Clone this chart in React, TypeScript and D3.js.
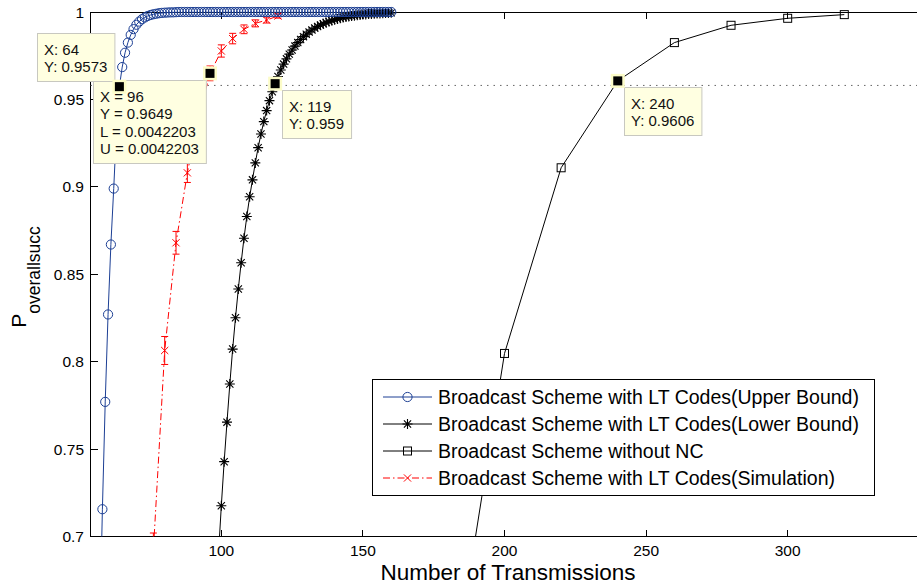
import * as d3 from 'd3';
import React, { useEffect, useRef } from 'react';

// Broadcast Scheme with LT Codes (Upper Bound)
const upperX = [57, 58, 59, 60, 61, 62, 63, 64, 65, 66, 67, 68, 69, 70, 71, 72, 73, 74, 75, 76, 77, 78, 79, 80,
    81, 82, 83, 84, 85, 86, 87, 88, 89, 90, 91, 92, 93, 94, 95, 96, 97, 98, 99, 100, 101, 102, 103, 104, 105,
    106, 107, 108, 109, 110, 111, 112, 113, 114, 115, 116, 117, 118, 119, 120, 121, 122, 123, 124, 125, 126,
    127, 128, 129, 130, 131, 132, 133, 134, 135, 136, 137, 138, 139, 140, 141, 142, 143, 144, 145, 146, 147,
    148, 149, 150, 151, 152, 153, 154, 155, 156, 157, 158, 159, 160];
const upperY = [0.64, 0.7156, 0.777, 0.827, 0.867, 0.899, 0.934, 0.9573, 0.9685, 0.9767, 0.9825, 0.9869, 0.9902,
    0.9927, 0.9945, 0.9959, 0.9969, 0.9977, 0.9983, 0.9987, 0.999, 0.9993, 0.9995, 0.9996, 0.9997, 0.9998,
    0.9998, 0.9999, 1, 1, 1, 1, 1, 1, 1, 1, 1, 1, 1, 1, 1, 1, 1, 1, 1, 1, 1, 1, 1, 1, 1, 1, 1, 1, 1, 1, 1, 1,
    1, 1, 1, 1, 1, 1, 1, 1, 1, 1, 1, 1, 1, 1, 1, 1, 1, 1, 1, 1, 1, 1, 1, 1, 1, 1, 1, 1, 1, 1, 1, 1, 1, 1, 1,
    1, 1, 1, 1, 1, 1, 1, 1, 1, 1, 1];

// Broadcast Scheme with LT Codes (Lower Bound)
const lowerX = [99, 100, 101, 102, 103, 104, 105, 106, 107, 108, 109, 110, 111, 112, 113, 114, 115, 116, 117,
    118, 119, 120, 121, 122, 123, 124, 125, 126, 127, 128, 129, 130, 131, 132, 133, 134, 135, 136, 137, 138,
    139, 140, 141, 142, 143, 144, 145, 146, 147, 148, 149, 150, 151, 152, 153, 154, 155, 156, 157, 158, 159, 160];
const lowerY = [0.69, 0.7176, 0.7428, 0.7654, 0.7872, 0.8072, 0.8251, 0.8416, 0.8566, 0.8706, 0.883, 0.8943,
    0.904, 0.9137, 0.9224, 0.9302, 0.9373, 0.9436, 0.9493, 0.9544, 0.959, 0.9631, 0.9668, 0.9702, 0.9732,
    0.9759, 0.9783, 0.9805, 0.9825, 0.9843, 0.9859, 0.9873, 0.9886, 0.9897, 0.9908, 0.9917, 0.9925, 0.9933,
    0.994, 0.9946, 0.9951, 0.9956, 0.996, 0.9964, 0.9968, 0.9971, 0.9974, 0.9977, 0.9979, 0.9981, 0.9983,
    0.9985, 0.9986, 0.9988, 0.9989, 0.999, 0.9991, 0.9992, 0.9993, 0.9994, 0.9994, 0.9995];

// Broadcast Scheme without NC
const noNcX = [180, 200, 220, 240, 260, 280, 300, 320];
const noNcY = [0.6, 0.8047, 0.9109, 0.9606, 0.9825, 0.9924, 0.9964, 0.9985];

// Broadcast Scheme with LT Codes (Simulation), with error bars
const simX = [76, 80, 84, 88, 92, 96, 100, 104, 108, 112, 116, 120];
const simY = [0.692, 0.8064, 0.868, 0.908, 0.94, 0.9649, 0.9777, 0.9848, 0.9901, 0.9935, 0.9954, 0.9977];
const simErr = [0.01, 0.008, 0.0065, 0.0055, 0.005, 0.0042203, 0.0035, 0.003, 0.0025, 0.002, 0.0017, 0.0012];

const xTicks = [100, 150, 200, 250, 300];
const yTicks = [0.7, 0.75, 0.8, 0.85, 0.9, 0.95, 1];
const yTickLabels = ['0.7', '0.75', '0.8', '0.85', '0.9', '0.95', '1'];

const legendLabels = [
    'Broadcast Scheme with LT Codes(Upper Bound)',
    'Broadcast Scheme with LT Codes(Lower Bound)',
    'Broadcast Scheme without NC',
    'Broadcast Scheme with LT Codes(Simulation)',
];

const refLevel = 0.958;

// data tips: [x, y] and their text
const tipPoints = [[96, 0.9649], [119, 0.959], [240, 0.9606], [64, 0.9573]];
const tipTexts = [
    ['X = 96', 'Y = 0.9649', 'L = 0.0042203', 'U = 0.0042203'],
    ['X: 119', 'Y: 0.959'],
    ['X: 240', 'Y: 0.9606'],
    ['X: 64', 'Y: 0.9573'],
];

const FONT = '"Liberation Sans", Arial, Helvetica, sans-serif';
const BLUE = '#1c3f94';

function App() {
    const ref = useRef<SVGSVGElement>(null);

    useEffect(() => {
        const width = 917;
        const height = 587;
        const left = 90.5;
        const right = 918.5;
        const top = 12;
        const bottom = 536.5;

        const svg = d3.select(ref.current);
        svg.selectAll('*').remove();
        svg.attr('width', width).attr('height', height)
            .style('background', 'white')
            .style('font-family', FONT);

        const x = d3.scaleLinear().domain([53.8, 346.2]).range([left, right]);
        const y = d3.scaleLinear().domain([0.7, 1]).range([bottom, top]);

        svg.append('rect').attr('width', width).attr('height', height).attr('fill', 'white');

        svg.append('clipPath').attr('id', 'plot-clip')
            .append('rect')
            .attr('x', left).attr('y', top)
            .attr('width', right - left).attr('height', bottom - top);

        // axes frame
        const frame = svg.append('g').attr('shape-rendering', 'crispEdges')
            .attr('stroke', 'black').attr('stroke-width', 1);
        frame.append('line').attr('x1', left).attr('x2', right).attr('y1', top).attr('y2', top);
        frame.append('line').attr('x1', left).attr('x2', right).attr('y1', bottom).attr('y2', bottom);
        frame.append('line').attr('x1', left).attr('x2', left).attr('y1', top).attr('y2', bottom);

        // ticks (inward, MATLAB style)
        xTicks.forEach((t) => {
            frame.append('line').attr('x1', x(t)).attr('x2', x(t)).attr('y1', bottom).attr('y2', bottom - 7);
            frame.append('line').attr('x1', x(t)).attr('x2', x(t)).attr('y1', top).attr('y2', top + 7);
        });
        yTicks.forEach((t) => {
            frame.append('line').attr('x1', left).attr('x2', left + 7).attr('y1', y(t)).attr('y2', y(t));
        });

        svg.append('g').selectAll('text').data(xTicks).join('text')
            .attr('x', (d) => x(d)).attr('y', 556)
            .attr('text-anchor', 'middle').attr('font-size', 15.5)
            .text((d) => d);
        svg.append('g').selectAll('text').data(yTicks).join('text')
            .attr('x', 84).attr('y', (d) => y(d)).attr('dy', '0.36em')
            .attr('text-anchor', 'end').attr('font-size', 15.5)
            .text((d, i) => yTickLabels[i]);

        // axis labels
        svg.append('text')
            .attr('x', 508).attr('y', 579.5)
            .attr('text-anchor', 'middle').attr('font-size', 22.5)
            .text('Number of Transmissions');
        const yl = svg.append('text')
            .attr('transform', 'translate(25.5,277) rotate(-90)')
            .attr('text-anchor', 'middle');
        yl.append('tspan').attr('font-size', 21).text('P');
        yl.append('tspan').attr('font-size', 17.5).attr('dy', 14).text('overallsucc');

        // dotted reference line
        svg.append('line')
            .attr('x1', left).attr('x2', right)
            .attr('y1', y(refLevel)).attr('y2', y(refLevel))
            .attr('stroke', '#666').attr('stroke-width', 1)
            .attr('stroke-dasharray', '1.5,5');

        const plot = svg.append('g');
        const lines = plot.append('g').attr('clip-path', 'url(#plot-clip)');

        function drawLine(xs: number[], ys: number[], color: string, dash?: string) {
            const gen = d3.line<number>().x((d) => x(d)).y((d, i) => y(ys[i]));
            lines.append('path').datum(xs)
                .attr('d', gen)
                .attr('fill', 'none').attr('stroke', color).attr('stroke-width', 1)
                .attr('stroke-dasharray', dash || null);
        }

        const inside = (v: number) => v >= 0.7 && v <= 1.0001;

        function marker(g: any, kind: string, color: string) {
            if (kind === 'circle') {
                g.append('circle').attr('r', 4.6).attr('fill', 'none').attr('stroke', color);
            } else if (kind === 'star') {
                g.append('path')
                    .attr('d', 'M-5,0H5M0,-5V5M-3.6,-3.6L3.6,3.6M-3.6,3.6L3.6,-3.6')
                    .attr('stroke', color).attr('stroke-width', 1.1).attr('fill', 'none');
            } else if (kind === 'square') {
                g.append('rect').attr('x', -4).attr('y', -4).attr('width', 8).attr('height', 8)
                    .attr('fill', 'none').attr('stroke', color);
            } else {
                g.append('path')
                    .attr('d', 'M-3.6,-3.6L3.6,3.6M-3.6,3.6L3.6,-3.6')
                    .attr('stroke', color).attr('fill', 'none');
            }
        }

        function drawMarkers(xs: number[], ys: number[], kind: string, color: string) {
            xs.forEach((d, i) => {
                if (!inside(ys[i])) return;
                const g = plot.append('g').attr('transform', `translate(${x(d)},${y(ys[i])})`);
                marker(g, kind, color);
            });
        }

        // without NC
        drawLine(noNcX, noNcY, 'black');
        drawMarkers(noNcX, noNcY, 'square', 'black');

        // simulation with error bars
        drawLine(simX, simY, 'red', '7,3,1.5,3');
        simX.forEach((d, i) => {
            const cx = x(d);
            const lo = y(simY[i] - simErr[i]);
            const hi = y(simY[i] + simErr[i]);
            lines.append('path')
                .attr('d', `M${cx},${lo}V${hi}M${cx - 3.5},${lo}H${cx + 3.5}M${cx - 3.5},${hi}H${cx + 3.5}`)
                .attr('stroke', 'red').attr('fill', 'none');
        });
        drawMarkers(simX, simY, 'x', 'red');

        // lower bound
        drawLine(lowerX, lowerY, 'black');
        drawMarkers(lowerX, lowerY, 'star', 'black');

        // upper bound
        drawLine(upperX, upperY, BLUE);
        drawMarkers(upperX, upperY, 'circle', BLUE);

        // legend
        const legend = svg.append('g');
        const lgX = 372.5;
        const lgY = 379.5;
        const rowH = 27;
        const textX = 438;
        const legendBox = legend.append('rect')
            .attr('x', lgX).attr('y', lgY).attr('height', 115.5)
            .attr('fill', 'white').attr('stroke', 'black').attr('stroke-width', 1)
            .attr('shape-rendering', 'crispEdges');
        const kinds = ['circle', 'star', 'square', 'x'];
        const colors = [BLUE, 'black', 'black', 'red'];
        const dashes = [null, null, null, '7,3,1.5,3'];
        let maxW = 0;
        legendLabels.forEach((label, i) => {
            const cy = lgY + 17.5 + i * rowH;
            legend.append('line')
                .attr('x1', 383).attr('x2', 432).attr('y1', cy).attr('y2', cy)
                .attr('stroke', colors[i]).attr('stroke-dasharray', dashes[i]);
            const g = legend.append('g').attr('transform', `translate(407.5,${cy})`);
            marker(g, kinds[i], colors[i]);
            const t = legend.append('text')
                .attr('x', textX).attr('y', cy + 7)
                .attr('font-size', 19.5)
                .text(label);
            maxW = Math.max(maxW, (t.node() as SVGTextElement).getComputedTextLength());
        });
        legendBox.attr('width', textX - lgX + maxW + 16);

        // data tips
        const placements = ['downleft', 'downright', 'downright', 'upleft'];
        tipPoints.forEach((p, i) => {
            const mx = x(p[0]);
            const my = y(p[1]);
            const tip = svg.append('g');
            const rows = tipTexts[i];
            const boxH = 21.5 + (rows.length - 1) * 17.5 + 9;
            const box = tip.append('rect')
                .attr('height', boxH)
                .attr('fill', '#ffffe1').attr('stroke', '#c8c8c0').attr('stroke-width', 1);
            const texts = rows.map((r) => tip.append('text')
                .attr('font-size', 15).attr('fill', '#111')
                .text(r));
            const w = d3.max(texts, (t) => (t.node() as SVGTextElement).getComputedTextLength()) as number;
            const boxW = w + 14;
            let bx = mx + 6.5;
            let by = my + 6;
            if (placements[i] === 'downleft') {
                bx = mx - 4 - boxW;
                by = my + 6.5;
            } else if (placements[i] === 'upleft') {
                bx = mx - 4.5 - boxW;
                by = my - 6 - boxH;
            }
            box.attr('x', Math.round(bx) + 0.5).attr('y', Math.round(by) + 0.5).attr('width', boxW);
            texts.forEach((t, j) => {
                t.attr('x', Math.round(bx) + 7).attr('y', Math.round(by) + 21.5 + j * 17.5);
            });
            tip.append('rect')
                .attr('x', mx - 7).attr('y', my - 7).attr('width', 14).attr('height', 14)
                .attr('fill', '#fcfcc8');
            tip.append('rect')
                .attr('x', mx - 4.5).attr('y', my - 4.5).attr('width', 9).attr('height', 9)
                .attr('fill', 'black');
        });
    }, []);

    return (
        <div style={{ position: 'absolute', left: 0, top: 0 }}>
            <svg ref={ref} />
        </div>
    );
}

export default App;
